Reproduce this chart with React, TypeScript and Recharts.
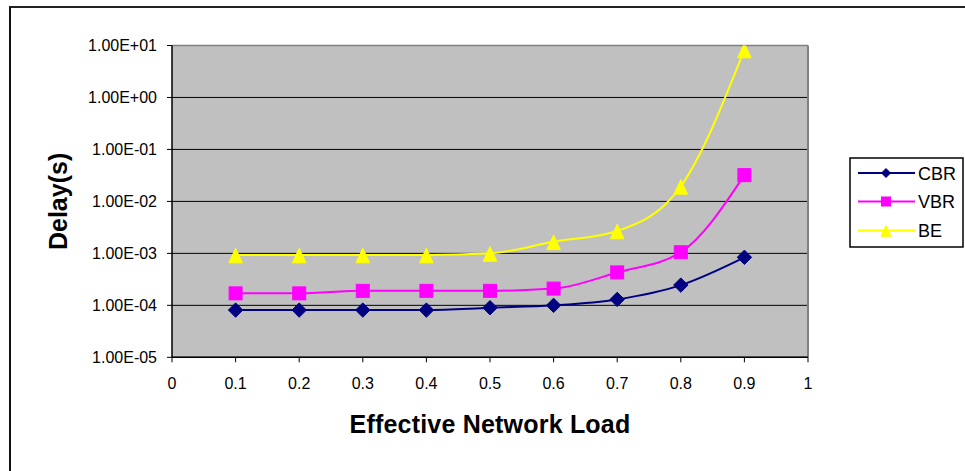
import React from "react";
import {
  LineChart,
  Line,
  XAxis,
  YAxis,
  CartesianGrid,
  Legend,
  ReferenceLine,
  Label,
} from "recharts";

const loads = [0.1, 0.2, 0.3, 0.4, 0.5, 0.6, 0.7, 0.8, 0.9];
const cbr = [8.1e-5, 8.1e-5, 8.1e-5, 8.1e-5, 9.0e-5, 1.0e-4, 1.3e-4, 2.45e-4, 8.4e-4];
const vbr = [1.7e-4, 1.7e-4, 1.9e-4, 1.9e-4, 1.9e-4, 2.1e-4, 4.3e-4, 1.05e-3, 3.2e-2];
const be = [9.3e-4, 9.3e-4, 9.3e-4, 9.3e-4, 1.0e-3, 1.67e-3, 2.7e-3, 1.95e-2, 8.2];

const seriesNames = ["CBR", "VBR", "BE"];
const xTicks = [0, 0.1, 0.2, 0.3, 0.4, 0.5, 0.6, 0.7, 0.8, 0.9, 1];
const yTicks = [1e-5, 1e-4, 1e-3, 1e-2, 1e-1, 1, 10];
const yTickLabels = ["1.00E-05", "1.00E-04", "1.00E-03", "1.00E-02", "1.00E-01", "1.00E+00", "1.00E+01"];

const data = loads.map((x, i) => ({ load: x, CBR: cbr[i], VBR: vbr[i], BE: be[i] }));

const COLORS: Record<string, string> = { CBR: "#000080", VBR: "#FF00FF", BE: "#FFFF00" };
const FONT = "Arial, 'Liberation Sans', Helvetica, sans-serif";

function Marker({ kind, cx, cy, s }: { kind: string; cx: number; cy: number; s: number }) {
  const c = COLORS[kind];
  if (kind === "CBR") {
    return (
      <polygon
        points={`${cx},${cy - s} ${cx + s},${cy} ${cx},${cy + s} ${cx - s},${cy}`}
        fill={c}
        stroke={c}
        strokeWidth={1}
      />
    );
  }
  if (kind === "VBR") {
    return <rect x={cx - s} y={cy - s} width={2 * s} height={2 * s} fill={c} stroke={c} strokeWidth={1} />;
  }
  return (
    <polygon
      points={`${cx},${cy - s} ${cx + s},${cy + s * 1.15} ${cx - s},${cy + s * 1.15}`}
      fill={c}
      stroke={c}
      strokeWidth={1}
    />
  );
}

const makeDot = (kind: string) => (props: any) => {
  const { cx, cy, index } = props;
  if (cx == null || cy == null) return <g key={`${kind}-${index}`} />;
  const s = kind === "BE" ? 6.8 : kind === "CBR" ? 7.2 : 6.5;
  return (
    <g key={`${kind}-${index}`}>
      <Marker kind={kind} cx={cx} cy={cy} s={s} />
    </g>
  );
};

const renderLegend = (props: any) => {
  const payload = [...(props.payload || [])].sort(
    (a: any, b: any) =>
      seriesNames.indexOf(String(a.dataKey ?? a.value)) - seriesNames.indexOf(String(b.dataKey ?? b.value))
  );
  const rowY = [16, 44.5, 73.5];
  return (
    <svg width={115} height={91} style={{ display: "block" }}>
      <rect x={1} y={1} width={113} height={89} fill="#fff" stroke="#000" strokeWidth={1.5} />
      {payload.map((entry: any, i: number) => {
        const key = String(entry.dataKey ?? entry.value);
        const y = rowY[i];
        return (
          <g key={key}>
            <line x1={9} x2={66} y1={y} y2={y} stroke={COLORS[key]} strokeWidth={2} />
            <Marker kind={key} cx={37} cy={y} s={key === "BE" ? 5 : 4.5} />
            <text x={69} y={y + 6.5} fontSize={18} fontFamily={FONT} fill="#000">
              {entry.value}
            </text>
          </g>
        );
      })}
    </svg>
  );
};

export default function App() {
  return (
    <div style={{ position: "absolute", left: 0, top: 0, width: 965, height: 471, background: "#fff", overflow: "hidden" }}>
      <div
        style={{
          position: "absolute",
          left: 9,
          top: 6,
          width: 960,
          height: 470,
          borderLeft: "2px solid #111",
          borderTop: "2px solid #222",
          boxSizing: "border-box",
        }}
      />
      <div style={{ position: "absolute", left: 0, top: 0 }}>
        <LineChart
          width={965}
          height={471}
          data={data}
          margin={{ top: 45.5, right: 157, bottom: 83.7, left: 0 }}
        >
          <CartesianGrid vertical={false} fill="#C0C0C0" fillOpacity={1} stroke="#000" strokeWidth={1} />
          <XAxis
            dataKey="load"
            type="number"
            domain={[0, 1]}
            ticks={xTicks}
            height={30}
            axisLine={{ stroke: "#000", strokeWidth: 1.5 }}
            tickLine={{ stroke: "#000" }}
            tickSize={5}
            tickMargin={15}
            tick={{ fill: "#000", fontSize: 16, fontFamily: FONT }}
            interval={0}
          >
            <Label
              value="Effective Network Load"
              position="bottom"
              offset={28}
              style={{ fontSize: 25, fontWeight: "bold", fontFamily: FONT, fill: "#000", letterSpacing: 0.2 }}
            />
          </XAxis>
          <YAxis
            scale="log"
            domain={[1e-5, 10]}
            ticks={yTicks}
            allowDataOverflow
            width={172}
            axisLine={{ stroke: "#000", strokeWidth: 1.5 }}
            tickLine={{ stroke: "#000" }}
            tickSize={5}
            tickMargin={10}
            interval={0}
            tick={{ fill: "#000", fontSize: 16, fontFamily: FONT }}
            tickFormatter={(v: number) => yTickLabels[yTicks.indexOf(v)] ?? String(v)}
          >
            <Label
              value="Delay(s)"
              angle={-90}
              position="insideLeft"
              offset={58}
              style={{ textAnchor: "middle", fontSize: 25, fontWeight: "bold", fontFamily: FONT, fill: "#000" }}
            />
          </YAxis>
          <ReferenceLine y={10} stroke="#808080" strokeWidth={1.5} />
          <ReferenceLine x={1} stroke="#808080" strokeWidth={2} />
          {seriesNames.map((name) => (
            <Line
              key={name}
              dataKey={name}
              name={name}
              type="monotone"
              stroke={COLORS[name]}
              strokeWidth={2}
              dot={makeDot(name)}
              activeDot={false}
              isAnimationActive={false}
            />
          ))}
          <Legend
            layout="horizontal"
            align="center"
            verticalAlign="middle"
            content={renderLegend}
            wrapperStyle={{ left: 849, top: 156.5, width: 115, height: 91 }}
          />
        </LineChart>
      </div>
    </div>
  );
}
